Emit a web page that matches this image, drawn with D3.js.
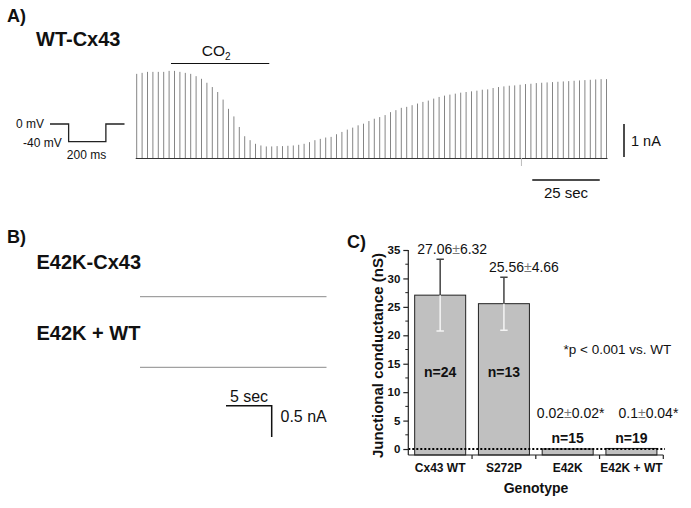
<!DOCTYPE html>
<html><head><meta charset="utf-8">
<script src="https://cdn.jsdelivr.net/npm/d3@7"></script>
<style>
body{margin:0;background:#fff}
svg{display:block}
text{font-family:"Liberation Sans",Arial,Helvetica,sans-serif;fill:#111}
</style>
</head><body>
<svg id="c" width="691" height="508"></svg>
<script>
// ---------- DATA ----------
// Panel A: peak junctional current of each sweep (nA), one sweep every 2 s
const sweepCurrents = [2.55,2.58,2.61,2.61,2.61,2.61,2.64,2.64,2.61,2.58,2.55,2.48,2.40,2.28,2.15,2.00,1.77,1.49,1.26,0.94,
  0.66,0.54,0.43,0.38,0.35,0.35,0.36,0.36,0.37,0.38,0.40,0.43,0.48,0.54,0.58,0.62,0.64,0.72,0.79,0.86,
  0.92,0.99,1.04,1.12,1.19,1.24,1.30,1.39,1.45,1.52,1.55,1.60,1.65,1.70,1.74,1.80,1.85,1.89,1.92,1.95,
  1.98,2.00,2.02,2.04,2.07,2.08,2.12,2.15,2.17,2.19,2.20,2.22,2.24,2.25,2.27,2.28,2.29,2.30,2.31,2.32,
  2.33,2.34,2.35,2.36,2.37,2.38,2.39,2.39];
const sweepInterval = 2;          // s
const co2Window = [12.7, 49.1];   // s
const protocolTime = [-100, 0, 0, 200, 200, 300];   // ms
const protocolVolt = [0, 0, -40, -40, 0, 0];        // mV
// Panel B: flat traces (no coupling)
const bTraceTime = [0, 20.4];     // s
const bTraceCurrent = [0, 0];     // nA
// Panel C
const genotypes = ["Cx43 WT", "S272P", "E42K", "E42K + WT"];
const gjMean = [27.06, 25.56, 0.02, 0.1];
const gjSD = [6.32, 4.66, 0.02, 0.04];
const nCells = [24, 13, 15, 19];
const meanTextA = ["27.06", "25.56", "0.02", "0.1"];
const sdTextA = ["6.32", "4.66", "0.02*", "0.04*"];
const yTickValues = [0, 5, 10, 15, 20, 25, 30, 35];

// ---------- DRAW ----------
const svg = d3.select("#c");
const FONT = "'Liberation Sans',Arial,sans-serif";

function txt(x, y, s, size, weight, anchor) {
  return svg.append("text").attr("x", x).attr("y", y).text(s)
    .attr("font-size", size).attr("font-weight", weight || "normal")
    .attr("text-anchor", anchor || "start");
}

// Panel labels
txt(7, 21.5, "A)", 18, "bold");
txt(36, 45.5, "WT-Cx43", 20, "bold");
txt(7, 243, "B)", 18, "bold");
txt(36.5, 268.5, "E42K-Cx43", 20, "bold");
txt(36.5, 340, "E42K + WT", 20, "bold");
txt(347, 248, "C)", 18, "bold");

// ----- Panel A -----
const tA = d3.scaleLinear().domain([0, 174]).range([136.7, 606.5]);
const iA = d3.scaleLinear().domain([0, 1]).range([158, 125]);
const gA = svg.append("g");
gA.selectAll("line.sw").data(sweepCurrents).join("line")
  .attr("x1", (d, i) => tA(i * sweepInterval)).attr("x2", (d, i) => tA(i * sweepInterval))
  .attr("y1", iA(0)).attr("y2", d => iA(d))
  .attr("stroke", "#858585").attr("stroke-width", 1);
gA.append("line").attr("x1", tA(0) - 1).attr("x2", tA(174) + 1).attr("y1", iA(0) + 0.5).attr("y2", iA(0) + 0.5)
  .attr("stroke", "#333").attr("stroke-width", 1.2);
gA.append("line").attr("x1", tA(142.5)).attr("x2", tA(142.5)).attr("y1", iA(0)).attr("y2", iA(0) + 8)
  .attr("stroke", "#bbb").attr("stroke-width", 1);
// CO2 bar
gA.append("line").attr("x1", tA(co2Window[0])).attr("x2", tA(co2Window[1])).attr("y1", 63.5).attr("y2", 63.5)
  .attr("stroke", "#111").attr("stroke-width", 1.2);
const co2 = txt((tA(co2Window[0]) + tA(co2Window[1])) / 2 - 4, 56, "CO", 15.5, "normal", "middle");
co2.append("tspan").text("2").attr("font-size", 10).attr("dy", 4);
// scale bars
gA.append("line").attr("x1", 624).attr("x2", 624).attr("y1", iA(0) - 1).attr("y2", iA(1) - 1)
  .attr("stroke", "#111").attr("stroke-width", 1.5);
txt(631, 146, "1 nA", 14.5);
gA.append("line").attr("x1", tA(146.5)).attr("x2", tA(146.5 + 25)).attr("y1", 180).attr("y2", 180)
  .attr("stroke", "#111").attr("stroke-width", 1.5);
txt((tA(146.5) + tA(171.5)) / 2, 198, "25 sec", 15, "normal", "middle");
// voltage protocol
const pT = d3.scaleLinear().domain([-100, 300]).range([50, 124.5]);
const pV = d3.scaleLinear().domain([-40, 0]).range([141.7, 124]);
gA.append("path").datum(protocolTime.map((t, i) => [t, protocolVolt[i]]))
  .attr("d", d3.line().x(d => pT(d[0])).y(d => pV(d[1])))
  .attr("fill", "none").attr("stroke", "#222").attr("stroke-width", 1.3);
txt(16, 128, "0 mV", 12);
txt(23, 146.5, "-40 mV", 12);
txt(86.5, 158.5, "200 ms", 12, "normal", "middle");

// ----- Panel B -----
const tB = d3.scaleLinear().domain([0, 20.4]).range([140, 326.5]);
[296.7, 367.3].forEach(y0 => {
  const iB = d3.scaleLinear().domain([0, 1]).range([y0, y0 - 62.6]);
  svg.append("path").datum(bTraceTime.map((t, i) => [t, bTraceCurrent[i]]))
    .attr("d", d3.line().x(d => tB(d[0])).y(d => iB(d[1])))
    .attr("stroke", "#8a8a8a").attr("stroke-width", 1).attr("fill", "none");
});
const sbX = d3.scaleLinear().domain([0, 5]).range([226, 271.7]);
svg.append("path").attr("d", `M${sbX(0)},405.7H${sbX(5)}V437`)
  .attr("fill", "none").attr("stroke", "#111").attr("stroke-width", 1.5);
txt(249, 401.5, "5 sec", 16, "normal", "middle");
txt(280.5, 421.5, "0.5 nA", 16);

// ----- Panel C -----
const x = d3.scaleBand().domain(genotypes).range([408.3, 663.3]).paddingInner(0.2).paddingOuter(0.1);
const y = d3.scaleLinear().domain([-1.05, 35]).range([455, 250]);
const gC = svg.append("g");
// bars
gC.selectAll("rect.bar").data(genotypes).join("rect")
  .attr("x", d => x(d)).attr("width", x.bandwidth())
  .attr("y", (d, i) => y(gjMean[i])).attr("height", (d, i) => y(-1.05) - y(gjMean[i]))
  .attr("fill", "#c0c0c0").attr("stroke", "#222").attr("stroke-width", 1);
// error bars (upper dark, lower white inside bar)
genotypes.forEach((g, i) => {
  if (gjSD[i] < 1) return;
  const cx = x(g) + x.bandwidth() / 2;
  const cw = 3.7;
  gC.append("path").attr("d", `M${cx},${y(gjMean[i])}V${y(gjMean[i] + gjSD[i])}M${cx - cw},${y(gjMean[i] + gjSD[i])}H${cx + cw}`)
    .attr("stroke", "#444").attr("stroke-width", 1.5).attr("fill", "none");
  gC.append("path").attr("d", `M${cx},${y(gjMean[i])}V${y(gjMean[i] - gjSD[i])}M${cx - cw},${y(gjMean[i] - gjSD[i])}H${cx + cw}`)
    .attr("stroke", "#f4f4f4").attr("stroke-width", 1.5).attr("fill", "none");
});
// zero dotted line
gC.append("line").attr("x1", 408.3).attr("x2", 665).attr("y1", y(0)).attr("y2", y(0))
  .attr("stroke", "#000").attr("stroke-width", 2).attr("stroke-dasharray", "2,2");
// y axis
const yAxis = d3.axisLeft(y).tickValues(yTickValues).tickSize(5).tickPadding(3).tickSizeOuter(0);
const ya = gC.append("g").attr("transform", "translate(408.3,0)").call(yAxis);
ya.select(".domain").attr("d", `M0,${y(35)}V${y(-1.05)}`).attr("stroke", "#222").attr("stroke-width", 1.2);
ya.selectAll(".tick line").attr("stroke", "#222").attr("stroke-width", 1.2);
ya.selectAll(".tick text").attr("font-size", 11.5).attr("font-weight", "bold").attr("font-family", FONT).attr("fill", "#111");
const minor = d3.range(2.5, 35, 5);
ya.selectAll("line.minor").data(minor).join("line").attr("class", "minor")
  .attr("x1", 0).attr("x2", -3).attr("y1", d => y(d)).attr("y2", d => y(d))
  .attr("stroke", "#222").attr("stroke-width", 1);
// x axis
const xa = gC.append("g").attr("transform", `translate(0,${y(-1.05)})`)
  .call(d3.axisBottom(x).tickSize(0).tickPadding(8).tickSizeOuter(0));
xa.select(".domain").attr("d", "M408.3,0H663.3").attr("stroke", "#222").attr("stroke-width", 1.2);
xa.selectAll(".tick text").attr("font-size", 12).attr("font-weight", "bold").attr("font-family", FONT).attr("fill", "#111");
const bounds = genotypes.slice(1).map(g => x(g) - x.step() * x.paddingInner() / 2).concat([663.3]);
xa.selectAll("line.bt").data(bounds).join("line").attr("class", "bt")
  .attr("x1", d => d).attr("x2", d => d).attr("y1", 0).attr("y2", 4)
  .attr("stroke", "#222").attr("stroke-width", 1.2);
// axis titles
svg.append("text").attr("transform", "translate(383,355.5) rotate(-90)")
  .attr("text-anchor", "middle").attr("font-size", 15).attr("font-weight", "bold")
  .text("Junctional conductance (nS)");
txt(536, 493, "Genotype", 14, "bold", "middle");
// value labels
const labelShift = [12, 20, 3, 17];
genotypes.forEach((g, i) => {
  const cx = x(g) + x.bandwidth() / 2;
  const ly = Math.min(y(gjMean[i] + gjSD[i]) - 5, y(5.4));
  const t = txt(cx + labelShift[i], ly, meanTextA[i], 14, "normal", "middle");
  t.append("tspan").text("±").attr("fill", "#777");
  t.append("tspan").text(sdTextA[i]);
  const ny = gjMean[i] > 5 ? y(12.7) : y(gjMean[i]) - 5.5;
  txt(cx, ny, "n=" + nCells[i], 14, "bold", "middle");
});
txt(563.5, 353.5, "*p < 0.001 vs. WT", 13.5);
</script>
</body></html>
